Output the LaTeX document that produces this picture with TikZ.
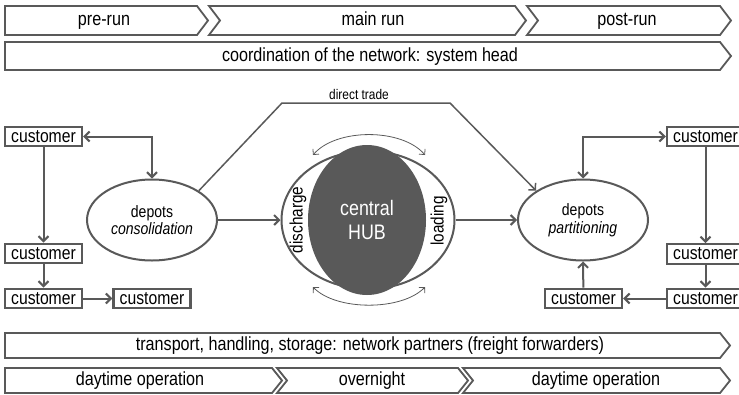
\documentclass[tikz,border=0pt]{standalone}
\usepackage{fontspec}
\setmainfont{Liberation Sans}[FakeStretch=0.85]
\usetikzlibrary{arrows.meta,shapes.geometric,calc}
\definecolor{lg}{HTML}{595959}
\begin{document}
\begin{tikzpicture}[x=1pt,y=-1pt,
  chev/.style={draw=lg, line width=1.8pt, line join=miter},
  ctext/.style={font=\fontsize{19}{22}\selectfont, inner sep=0pt, anchor=base},
  cust/.style={draw=lg, line width=2.4pt, minimum width=77pt, minimum height=19.5pt, inner sep=0pt, font=\fontsize{18.5}{20}\selectfont},
  depot/.style={ellipse, draw=lg, line width=2pt, minimum width=130pt, minimum height=81pt, inner sep=0pt, align=center, font=\fontsize{16.5}{17.5}\selectfont},
  arr/.style={draw=lg, line width=2pt, -{Straight Barb[length=5pt,width=10pt]}},
  darr/.style={draw=lg, line width=2pt, {Straight Barb[length=5pt,width=10pt]}-{Straight Barb[length=5pt,width=10pt]}},
  harr/.style={draw=lg, line width=0.8pt, {Straight Barb[length=4pt,width=8pt]}-{Straight Barb[length=4pt,width=8pt]}},
  sidetext/.style={rotate=90, inner sep=0pt, font=\fontsize{18}{20}\selectfont}
]
\clip (0,0) rectangle (739,394);
% top chevrons
\draw[chev] (5,6) -- (197,6) -- (208,20.5) -- (197,35) -- (5,35) -- cycle;
\node[ctext] (pre) at (104,25.5) {pre-run};
\draw[chev] (209,6) -- (515,6) -- (526,20.5) -- (515,35) -- (209,35) -- (220,20.5) -- cycle;
\node[ctext] (main) at (373,25.5) {main run};
\draw[chev] (527,6) -- (720,6) -- (731,20.5) -- (720,35) -- (527,35) -- (538,20.5) -- cycle;
\node[ctext] (post) at (627,25.5) {post-run};
\draw[chev] (5,42) -- (720,42) -- (731,56) -- (720,70) -- (5,70) -- cycle;
\node[ctext] (coord) at (370,61) {coordination of the network: system head};
% bottom chevrons
\draw[chev] (5,333) -- (720,333) -- (730,345.5) -- (720,358) -- (5,358) -- cycle;
\node[ctext] (transp) at (370,350.5) {transport, handling, storage: network partners (freight forwarders)};
\draw[chev] (5,368) -- (272,368) -- (282,380.5) -- (272,393) -- (5,393) -- cycle;
\node[ctext] (day1) at (140,385.5) {daytime operation};
\draw[chev] (277,368) -- (458,368) -- (468,380.5) -- (458,393) -- (277,393) -- (287,380.5) -- cycle;
\node[ctext] (night) at (372,385.5) {overnight};
\draw[chev] (463,368) -- (720,368) -- (730,380.5) -- (720,393) -- (463,393) -- (473,380.5) -- cycle;
\node[ctext] (day2) at (596,385.5) {daytime operation};
% depots
\node[depot] (depL) at (152,220) {depots\\\textit{consolidation}};
\node[depot] (depR) at (583,220) {depots\\\textit{partitioning}};
% hub
\node[ellipse, draw=lg, line width=2pt, fill=white, minimum width=173pt, minimum height=138pt, inner sep=0pt] (hubbg) at (368,220) {};
\node[ellipse, fill=lg, minimum width=118pt, minimum height=150pt, inner sep=0pt, text=white, align=center, font=\fontsize{21}{24}\selectfont] (hub) at (367,220) {central\\HUB};
\node[sidetext] (dis) at (298,220) {discharge};
\node[sidetext] (load) at (439,221) {loading};
\coordinate (a1) at (313,155);
\coordinate (a2) at (425,155);
\coordinate (b1) at (313,287);
\coordinate (b2) at (425,287);
\draw[harr] (a1) .. controls (336,128) and (402,128) .. (a2);
\draw[harr] (b1) .. controls (336,311) and (402,311) .. (b2);
% customers left
\node[cust] (c1) at (43.5,136.5) {customer};
\node[cust] (c2) at (43.5,253.5) {customer};
\node[cust] (c3) at (43.5,298.5) {customer};
\node[cust] (c4) at (152,298.5) {customer};
% customers right
\node[cust] (cA) at (705.5,136.5) {customer};
\node[cust] (cB) at (705.5,254) {customer};
\node[cust] (cC) at (705.5,298.5) {customer};
\node[cust] (cD) at (583.5,298.5) {customer};
% connectors left
\draw[darr] (c1.east) -| (depL.north);
\draw[arr] (c1) -- (c2);
\draw[arr] (c2) -- (c3);
\draw[arr] (c3) -- (c4);
\draw[arr] (depL.east) -- (hubbg.west);
% direct trade
\coordinate (dt1) at (282,103);
\coordinate (dt2) at (450,103);
\draw[draw=lg, line width=1.5pt, -{Straight Barb[length=5pt,width=10pt]}] (depL.32) -- (dt1) -- (dt2) -- (depR.148);
\node[inner sep=0pt, font=\fontsize{14}{16}\selectfont] (dtl) at (359,94) {direct trade};
% connectors right
\draw[arr] (hubbg.east) -- (depR.west);
\draw[darr] (depR.north) |- (cA.west);
\draw[arr] (cA) -- (cB);
\draw[arr] (cB) -- (cC);
\draw[arr] (cC) -- (cD);
\draw[arr] (cD) -- (depR.south);
\end{tikzpicture}
\end{document}
